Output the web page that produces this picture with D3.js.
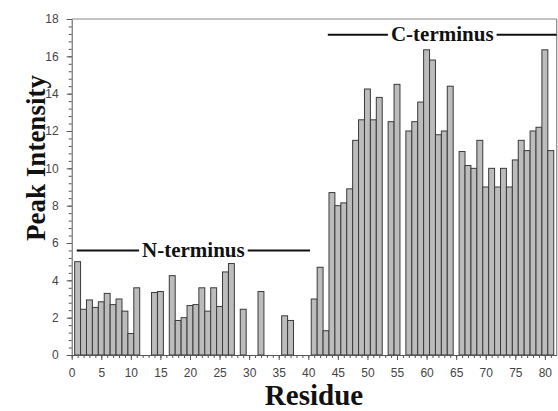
<!DOCTYPE html>
<html>
<head>
<meta charset="utf-8">
<script src="https://cdnjs.cloudflare.com/ajax/libs/d3/7.8.5/d3.min.js"></script>
<style>
  body { margin: 0; background: #fff; }
  .tick text { font-family: "Liberation Sans", Arial, sans-serif; font-size: 12px; fill: #444; }
  .title { font-family: "Liberation Serif", "Times New Roman", serif; font-weight: bold; fill: #111; }
</style>
</head>
<body>
<div id="chart"></div>
<script>

// residues that gave a peak, and the peak intensity of each one
var residues = [1, 2, 3, 4, 5, 6, 7, 8, 9, 10, 11, 14, 15, 17, 18, 19, 20, 21, 22, 23, 24, 25, 26, 27, 29, 32, 36, 37,
                41, 42, 43, 44, 45, 46, 47, 48, 49, 50, 51, 52, 54, 55, 57, 58, 59, 60, 61, 62, 63, 64,
                66, 67, 68, 69, 70, 71, 72, 73, 74, 75, 76, 77, 78, 79, 80, 81];
var intensities = [5.0, 2.45, 2.95, 2.55, 2.85, 3.3, 2.7, 3.0, 2.35, 1.15, 3.6, 3.35, 3.4, 4.25, 1.85, 2.0, 2.65, 2.7, 3.6, 2.35, 3.6, 2.6, 4.45, 4.9, 2.45, 3.4, 2.1, 1.85,
                   3.0, 4.7, 1.3, 8.7, 8.0, 8.15, 8.9, 11.5, 12.6, 14.25, 12.6, 13.8, 12.5, 14.5, 12.0, 12.5, 13.55, 16.35, 15.8, 11.8, 12.0, 14.4,
                   10.9, 10.15, 10.0, 11.5, 9.0, 10.0, 9.0, 10.0, 9.0, 10.45, 11.5, 10.95, 12.0, 12.2, 16.35, 10.95];

// labelled regions drawn above the bars (residue span and height)
var regionNames = ["N-terminus", "C-terminus"];
var regionStart = [0.85, 43.3];
var regionEnd = [40.3, 82];
var regionLevel = [5.6, 17.15];

var xTicks = d3.range(0, 81, 5);
var yTicks = d3.range(0, 19, 2);

// set the dimensions and margins of the graph
var margin = {top: 19, right: 1.3, bottom: 56, left: 71.7};
var width = 558 - margin.left - margin.right;
var height = 411 - margin.top - margin.bottom;

var svg = d3.select("#chart")
  .append("svg")
    .attr("width", 558)
    .attr("height", 411)
  .append("g")
    .attr("transform", "translate(" + margin.left + "," + margin.top + ")");

var x = d3.scaleLinear().domain([0, 82]).range([0, width]);
var y = d3.scaleLinear().domain([0, 18]).range([height, 0]);

var data = residues.map(function(r, i) { return {residue: r, value: intensities[i]}; });
var bw = x(1) - x(0);

// bars
svg.selectAll("rect.bar")
  .data(data)
  .enter().append("rect")
    .attr("class", "bar")
    .attr("x", function(d) { return x(d.residue - 0.5); })
    .attr("y", function(d) { return y(d.value); })
    .attr("width", bw)
    .attr("height", function(d) { return height - y(d.value); })
    .attr("fill", "#bcbcbc")
    .attr("stroke", "#3a3a3a")
    .attr("stroke-width", 1);

// frame on top and right
svg.append("line")
  .attr("x1", 0).attr("x2", width).attr("y1", 0).attr("y2", 0)
  .attr("stroke", "#888").attr("stroke-width", 1.2);
svg.append("line")
  .attr("x1", width).attr("x2", width).attr("y1", 0).attr("y2", height)
  .attr("stroke", "#888").attr("stroke-width", 1.2);

// minor ticks
svg.append("g")
  .attr("transform", "translate(0," + height + ")")
  .call(d3.axisBottom(x).tickValues(d3.range(0, 82, 1)).tickSize(3).tickSizeOuter(0).tickFormat(""))
  .call(function(g) { g.selectAll("line, path").attr("stroke", "#555"); });
svg.append("g")
  .call(d3.axisLeft(y).tickValues(d3.range(0, 18.01, 0.4)).tickSize(3).tickSizeOuter(0).tickFormat(""))
  .call(function(g) { g.selectAll("line, path").attr("stroke", "#555"); });

// major ticks with labels
svg.append("g")
  .attr("transform", "translate(0," + height + ")")
  .call(d3.axisBottom(x).tickValues(xTicks).tickSize(5).tickSizeOuter(0).tickPadding(8))
  .call(function(g) { g.select(".domain").remove(); g.selectAll("line").attr("stroke", "#555"); });
svg.append("g")
  .call(d3.axisLeft(y).tickValues(yTicks).tickSize(5).tickSizeOuter(0).tickPadding(8))
  .call(function(g) { g.select(".domain").remove(); g.selectAll("line").attr("stroke", "#555"); });

// region labels with a line either side of the text
regionNames.forEach(function(name, i) {
  var x0 = x(regionStart[i]), x1 = x(regionEnd[i]), ly = y(regionLevel[i]);
  var t = svg.append("text")
    .attr("class", "title")
    .attr("x", (x0 + x1) / 2)
    .attr("y", ly + 6.5)
    .attr("text-anchor", "middle")
    .style("font-size", "21px")
    .text(name);
  var tw = t.node().getComputedTextLength();
  var gap = 3;
  svg.append("line")
    .attr("x1", x0).attr("x2", (x0 + x1) / 2 - tw / 2 - gap)
    .attr("y1", ly).attr("y2", ly)
    .attr("stroke", "#111").attr("stroke-width", 2);
  svg.append("line")
    .attr("x1", (x0 + x1) / 2 + tw / 2 + gap).attr("x2", x1)
    .attr("y1", ly).attr("y2", ly)
    .attr("stroke", "#111").attr("stroke-width", 2);
});

// axis titles
svg.append("text")
  .attr("class", "title")
  .attr("transform", "translate(" + (45 - margin.left) + "," + (158 - margin.top) + ") rotate(-90)")
  .attr("text-anchor", "middle")
  .style("font-size", "27px")
  .text("Peak Intensity");

svg.append("text")
  .attr("class", "title")
  .attr("x", 314 - margin.left)
  .attr("y", 405 - margin.top)
  .attr("text-anchor", "middle")
  .style("font-size", "29px")
  .text("Residue");

</script>
</body>
</html>
